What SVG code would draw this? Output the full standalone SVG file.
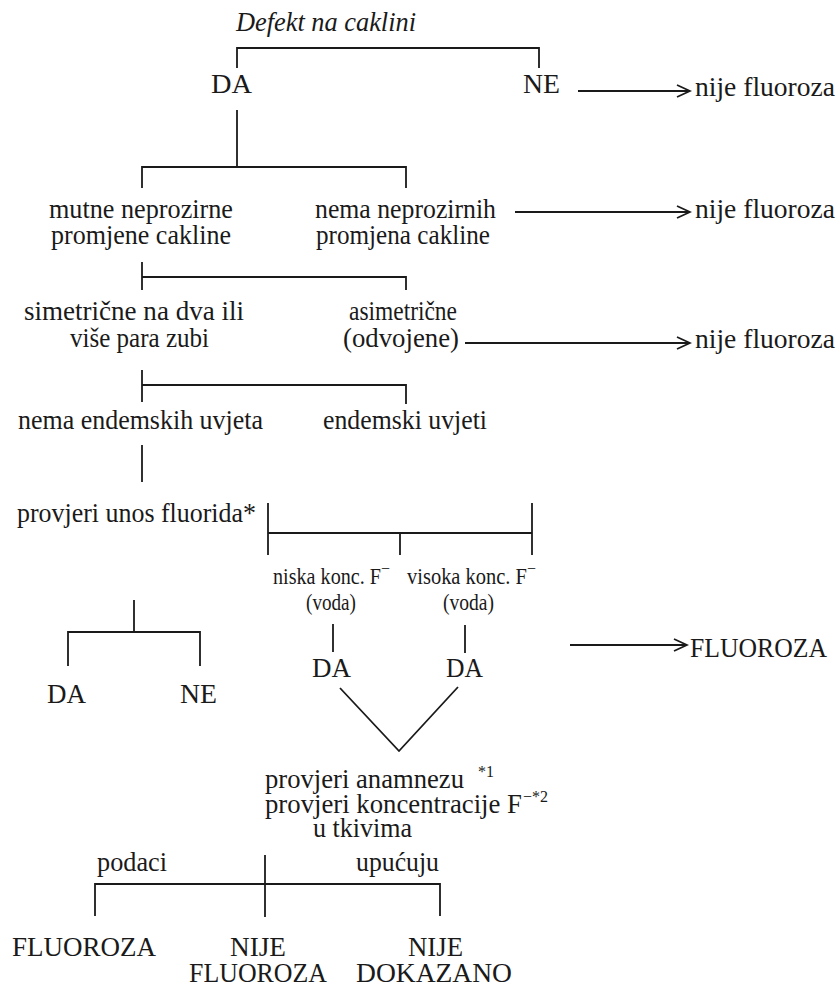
<svg xmlns="http://www.w3.org/2000/svg" width="839" height="988" viewBox="0 0 839 988">
<style>
text{font-family:"Liberation Serif","Times New Roman",serif;font-size:28px;fill:#1a1a1a}
.it{font-style:italic}
.sm{font-size:24px}
.sup{font-size:16px}
.ln{stroke:#1a1a1a;stroke-width:1.8;fill:none}
</style>
<defs>
<marker id="ah" markerWidth="16" markerHeight="16" refX="14" refY="7" orient="auto" markerUnits="userSpaceOnUse">
<path d="M1,1 L14,7 L1,13" fill="none" stroke="#1a1a1a" stroke-width="1.8"/>
</marker>
</defs>
<rect width="839" height="988" fill="#ffffff"/>
<g id="connectors" class="ln">
<path d="M237,68 V48 H539 V68"/>
<path d="M237,110 V167"/>
<path d="M142,188 V167 H406 V188"/>
<path d="M142,262 V290"/>
<path d="M142,277 H406 V290"/>
<path d="M142,370 V402"/>
<path d="M142,385 H406 V404"/>
<path d="M142,445 V482"/>
<path d="M268,503 V555"/>
<path d="M268,533 H532"/>
<path d="M532,503 V555"/>
<path d="M400,533 V555"/>
<path d="M333,624 V652"/>
<path d="M465,625 V653"/>
<path d="M340,688 L399,751 L458,687"/>
<path d="M134,600 V632"/>
<path d="M68,666 V632 H200 V666"/>
<path d="M265,855 V917"/>
<path d="M95,916 V884 H440 V916"/>
<line x1="578" y1="91" x2="690" y2="91" marker-end="url(#ah)"/>
<line x1="515" y1="212" x2="690" y2="212" marker-end="url(#ah)"/>
<line x1="465" y1="343" x2="690" y2="343" marker-end="url(#ah)"/>
<line x1="570" y1="645" x2="687" y2="645" marker-end="url(#ah)"/>
</g>
<g id="n-defekt"><text class="it" x="236" y="31" textLength="180" lengthAdjust="spacingAndGlyphs">Defekt na caklini</text></g>
<g id="n-da1"><text x="211" y="93" textLength="41" lengthAdjust="spacingAndGlyphs">DA</text></g>
<g id="n-ne1"><text x="523" y="93" textLength="37" lengthAdjust="spacingAndGlyphs">NE</text></g>
<g id="n-nije1"><text x="695" y="96" textLength="140" lengthAdjust="spacingAndGlyphs">nije fluoroza</text></g>
<g id="n-mutne">
<text x="49" y="218" textLength="184" lengthAdjust="spacingAndGlyphs">mutne neprozirne</text>
<text x="51" y="244" textLength="180" lengthAdjust="spacingAndGlyphs">promjene cakline</text>
</g>
<g id="n-nema">
<text x="315" y="218" textLength="181" lengthAdjust="spacingAndGlyphs">nema neprozirnih</text>
<text x="316" y="244" textLength="174" lengthAdjust="spacingAndGlyphs">promjena cakline</text>
</g>
<g id="n-nije2"><text x="695" y="218" textLength="140" lengthAdjust="spacingAndGlyphs">nije fluoroza</text></g>
<g id="n-simetricne">
<text x="24" y="320" textLength="220" lengthAdjust="spacingAndGlyphs">simetrične na dva ili</text>
<text x="70" y="347" textLength="139" lengthAdjust="spacingAndGlyphs">više para zubi</text>
</g>
<g id="n-asimetricne">
<text x="349" y="320" textLength="108" lengthAdjust="spacingAndGlyphs">asimetrične</text>
<text x="343" y="347" textLength="116" lengthAdjust="spacingAndGlyphs">(odvojene)</text>
</g>
<g id="n-nije3"><text x="695" y="348" textLength="140" lengthAdjust="spacingAndGlyphs">nije fluoroza</text></g>
<g id="n-nemaend"><text x="18" y="429" textLength="245" lengthAdjust="spacingAndGlyphs">nema endemskih uvjeta</text></g>
<g id="n-endemski"><text x="323" y="429" textLength="164" lengthAdjust="spacingAndGlyphs">endemski uvjeti</text></g>
<g id="n-provjeri"><text x="17" y="522" textLength="239" lengthAdjust="spacingAndGlyphs">provjeri unos fluorida*</text></g>
<g id="n-niska">
<text class="sm" x="273" y="584" textLength="108" lengthAdjust="spacingAndGlyphs">niska konc. F</text>
<text class="sup" x="381" y="574">−</text>
<text class="sm" x="306" y="610" textLength="50" lengthAdjust="spacingAndGlyphs">(voda)</text>
</g>
<g id="n-visoka">
<text class="sm" x="407" y="584" textLength="120" lengthAdjust="spacingAndGlyphs">visoka konc. F</text>
<text class="sup" x="527" y="574">−</text>
<text class="sm" x="443" y="610" textLength="51" lengthAdjust="spacingAndGlyphs">(voda)</text>
</g>
<g id="n-da-niska"><text x="312" y="677" textLength="39" lengthAdjust="spacingAndGlyphs">DA</text></g>
<g id="n-da-visoka"><text x="446" y="677" textLength="37" lengthAdjust="spacingAndGlyphs">DA</text></g>
<g id="n-da2"><text x="47" y="703" textLength="39" lengthAdjust="spacingAndGlyphs">DA</text></g>
<g id="n-ne2"><text x="180" y="703" textLength="37" lengthAdjust="spacingAndGlyphs">NE</text></g>
<g id="n-fluoroza1"><text x="690" y="657" textLength="137" lengthAdjust="spacingAndGlyphs">FLUOROZA</text></g>
<g id="n-anamneza">
<text x="265" y="788" textLength="199" lengthAdjust="spacingAndGlyphs">provjeri anamnezu</text>
<text class="sup" x="478" y="777">*1</text>
<text x="265" y="813" textLength="257" lengthAdjust="spacingAndGlyphs">provjeri koncentracije F</text>
<text class="sup" x="523" y="802">−*2</text>
<text x="313" y="837" textLength="99" lengthAdjust="spacingAndGlyphs">u tkivima</text>
</g>
<g id="n-podaci"><text x="97" y="871" textLength="70" lengthAdjust="spacingAndGlyphs">podaci</text></g>
<g id="n-upucuju"><text x="356" y="871" textLength="83" lengthAdjust="spacingAndGlyphs">upućuju</text></g>
<g id="n-fluoroza2"><text x="12" y="956" textLength="144" lengthAdjust="spacingAndGlyphs">FLUOROZA</text></g>
<g id="n-nijefl">
<text x="230" y="956" textLength="56" lengthAdjust="spacingAndGlyphs">NIJE</text>
<text x="189" y="982" textLength="138" lengthAdjust="spacingAndGlyphs">FLUOROZA</text>
</g>
<g id="n-nijedok">
<text x="408" y="956" textLength="55" lengthAdjust="spacingAndGlyphs">NIJE</text>
<text x="356" y="982" textLength="156" lengthAdjust="spacingAndGlyphs">DOKAZANO</text>
</g>
</svg>
